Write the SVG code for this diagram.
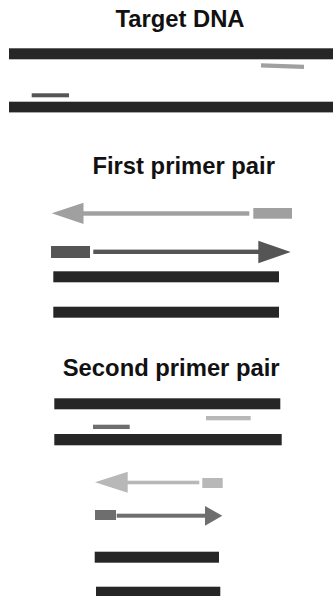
<svg xmlns="http://www.w3.org/2000/svg" width="333" height="596" viewBox="0 0 333 596">
  <style>
    .title { font-family: "Liberation Sans", Arial, Helvetica, sans-serif; font-weight: bold; font-size: 23.8px; fill: #111; text-anchor: middle; }
    .strand { fill: #262626; }
    .fwd1 { fill: #555555; }
    .rev1 { fill: #a0a0a0; }
    .fwd2 { fill: #6e6e6e; }
    .rev2 { fill: #b8b8b8; }
  </style>
  <rect width="333" height="596" fill="#ffffff"/>

  <!-- Target DNA: double strand with primer binding sites -->
  <g id="target-dna">
    <text class="title" x="180" y="26.5">Target DNA</text>
    <rect class="strand" x="9" y="48.3" width="324" height="11"/>
    <line x1="261" y1="65.3" x2="304" y2="66.8" stroke="#a0a0a0" stroke-width="4.2"/>
    <rect class="fwd1" x="31.7" y="93.3" width="37.3" height="4"/>
    <rect class="strand" x="9" y="101.7" width="324" height="10.7"/>
  </g>

  <!-- First primer pair -->
  <g id="first-primer-pair">
    <text class="title" x="183.7" y="174.3">First primer pair</text>
    <!-- reverse primer -->
    <rect class="rev1" x="253.3" y="208" width="38.7" height="10.7"/>
    <rect class="rev1" x="82" y="211.3" width="167.3" height="4.4"/>
    <polygon class="rev1" points="51.7,213.3 83.5,202.7 83.5,224"/>
    <!-- forward primer -->
    <rect class="fwd1" x="51" y="246" width="39" height="12"/>
    <rect class="fwd1" x="93.3" y="249.6" width="166" height="4.4"/>
    <polygon class="fwd1" points="290.7,252 258.3,240.7 258.3,263.3"/>
    <!-- product -->
    <rect class="strand" x="53.3" y="271.3" width="225.7" height="11"/>
    <rect class="strand" x="53.3" y="306.7" width="225.7" height="11"/>
  </g>

  <!-- Second primer pair -->
  <g id="second-primer-pair">
    <text class="title" x="171.2" y="375.5">Second primer pair</text>
    <rect class="strand" x="54.3" y="398.3" width="226" height="11"/>
    <rect class="rev2" x="206" y="416" width="44.7" height="4.3"/>
    <rect class="fwd2" x="93" y="424.7" width="36.7" height="4.3"/>
    <rect class="strand" x="54.3" y="434" width="227.4" height="11.3"/>
  </g>

  <!-- Nested amplification -->
  <g id="nested-product">
    <!-- reverse primer -->
    <rect class="rev2" x="202.3" y="478" width="20.4" height="10"/>
    <rect class="rev2" x="126" y="480.7" width="73.3" height="3.6"/>
    <polygon class="rev2" points="95,482.3 127.7,471.7 127.7,492.7"/>
    <!-- forward primer -->
    <rect class="fwd2" x="95" y="510" width="21" height="10"/>
    <rect class="fwd2" x="116.7" y="513.7" width="90" height="4"/>
    <polygon class="fwd2" points="222.3,515.7 205,506 205,525.7"/>
    <!-- product -->
    <rect class="strand" x="94.7" y="551.7" width="124.3" height="11"/>
    <rect class="strand" x="96" y="586.7" width="124.3" height="11"/>
  </g>
</svg>
